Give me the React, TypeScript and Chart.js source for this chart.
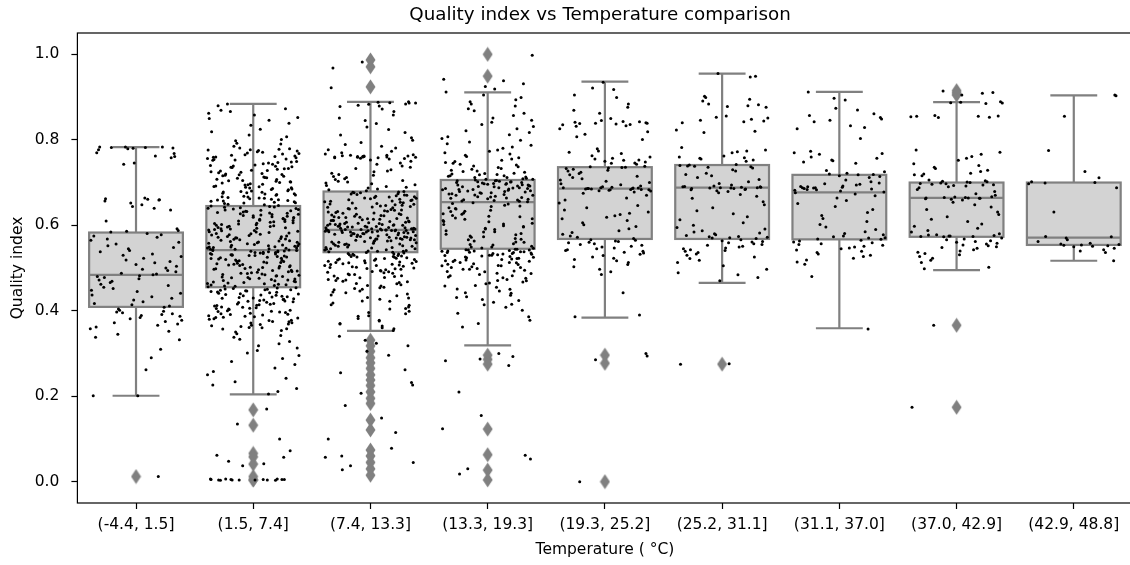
import React, { useEffect, useRef } from 'react';
import { Chart, registerables } from 'chart.js';

Chart.register(...registerables);

// ---------- data ----------
const categories = [
  '(-4.4, 1.5]', '(1.5, 7.4]', '(7.4, 13.3]', '(13.3, 19.3]', '(19.3, 25.2]',
  '(25.2, 31.1]', '(31.1, 37.0]', '(37.0, 42.9]', '(42.9, 48.8]',
];
const yTicks = [0.0, 0.2, 0.4, 0.6, 0.8, 1.0];

const whiskerLow = [0.201, 0.204, 0.353, 0.319, 0.384, 0.465, 0.359, 0.495, 0.517];
const q1 = [0.409, 0.455, 0.537, 0.545, 0.568, 0.568, 0.567, 0.573, 0.554];
const median = [0.484, 0.542, 0.589, 0.654, 0.686, 0.688, 0.677, 0.664, 0.571];
const q3 = [0.583, 0.645, 0.679, 0.706, 0.736, 0.741, 0.718, 0.700, 0.700];
const whiskerHigh = [0.783, 0.884, 0.889, 0.911, 0.936, 0.955, 0.912, 0.888, 0.904];

const outliers: number[][] = [
  [0.012],
  [0.168, 0.132, 0.066, 0.058, 0.041, 0.012, 0.004, 0.004],
  [0.987, 0.971, 0.924, 0.331, 0.318, 0.305, 0.290, 0.278, 0.265, 0.250, 0.238, 0.225, 0.210, 0.195, 0.183, 0.144, 0.121, 0.074, 0.060, 0.045, 0.030, 0.015],
  [1.0, 0.949, 0.296, 0.286, 0.275, 0.123, 0.063, 0.027, 0.004],
  [0.296, 0.277, 0.0],
  [0.275],
  [],
  [0.915, 0.910, 0.905, 0.366, 0.174],
  [],
];

// strip points (quality index, thousandths)
const stripG1 = [
  783, 783, 782, 781, 783, 780, 782, 779, 777, 770, 768, 762, 761, 758, 746, 743,
  664, 662, 661, 660, 659, 657, 652, 648, 644, 640, 636, 610,
  592, 588, 586, 584, 581, 578, 575, 572,
  568, 565, 560, 556, 552, 548, 545, 541, 538, 533, 530, 527, 523, 519, 515, 512, 508, 504, 500, 497, 494, 491,
  488, 486, 484, 482, 480, 478, 475, 472, 469, 466, 462, 459, 455, 452, 448, 445, 441, 437, 433, 429, 425, 421, 417, 414, 411, 408,
  404, 401, 399, 397, 395, 393, 391, 389, 387, 384, 381, 378, 375, 372, 369, 366, 362, 358, 352, 345, 338, 332, 310, 290, 262, 201, 201, 12,
];
const stripG2 = [
  884, 880, 873, 869, 866, 862, 858, 852, 850, 846, 839, 834, 825, 819, 811, 807, 801, 798, 792, 790, 785, 781,
  779, 778, 775, 774, 772, 769, 768, 767, 764, 762, 761, 759, 756, 755, 753, 752, 749, 747, 746, 744, 741, 740, 738, 736,
  735, 732, 731, 728, 727, 725, 723, 720, 719, 718, 715, 713, 711, 710, 708, 705, 704, 702, 700, 697, 696, 694, 692, 691,
  688, 686, 685, 683, 680, 679, 677, 675, 673, 672, 670, 667, 666, 664, 662, 661, 658, 657, 655, 653, 652, 649, 648, 646,
  645, 643, 642, 640, 639, 638, 636, 634, 633, 632, 630, 629, 627, 626, 624, 623, 621, 620, 619, 617, 615, 614, 613, 611,
  610, 608, 607, 605, 604, 602, 601, 600, 598, 596, 595, 594, 592, 591, 589, 588, 586, 585, 583, 582, 580, 579, 577, 576,
  575, 573, 571, 570, 569, 567, 566, 564, 563, 561, 560, 559, 557, 556, 554, 553, 551, 550, 548, 547, 546, 544, 543, 541,
  540, 538, 537, 536, 534, 533, 531, 530, 528, 527, 525, 524, 522, 521, 520, 518, 517, 515, 514, 512, 511, 510, 508, 507,
  505, 504, 502, 501, 499, 498, 497, 495, 494, 492, 491, 489, 488, 486, 485, 484, 482, 481, 479, 478, 476, 475, 473, 472,
  471, 469, 468, 466, 465, 463, 462, 460, 459, 458, 456,
  454, 452, 451, 449, 447, 446, 444, 442, 440, 439, 437, 435, 433, 432, 430, 428, 426, 424, 423, 421, 419, 417, 415, 413,
  411, 409, 407, 405, 403, 400, 398, 396, 393, 391, 388, 386, 383, 380, 377, 374, 371, 368, 365, 361, 358, 354, 350, 346,
  342, 338, 333, 328, 323, 318, 313, 307, 301, 295, 288, 281, 274, 266, 258, 250, 242, 234, 226, 218, 211, 205,
  5, 4, 6, 3, 5, 4, 5, 6, 4, 3, 5, 4, 6, 5, 4, 57, 42, 170, 135, 62, 37, 48, 72, 100,
  777, 771, 765, 760, 754, 748, 743, 737, 733, 729, 724, 721, 716, 712, 707, 703, 699, 695, 690, 687, 684, 681, 678, 674,
  671, 668, 665, 663, 660, 656, 654, 651, 776, 758, 739, 717, 701, 689, 676, 659,
  644, 641, 637, 635, 631, 628, 625, 622, 618, 616, 612, 609, 606, 603, 599, 597, 593, 590, 587, 584, 581, 578, 574, 572,
  568, 565, 562, 558, 555, 552, 549, 545, 542, 539, 535, 532, 529, 526, 523, 519, 516, 513, 509, 506, 503, 500, 496, 493,
  490, 487, 483, 480, 477, 474, 470, 467, 464, 461, 457, 541, 547, 538, 552, 534, 529, 544, 536, 549, 531, 540,
  453, 450, 448, 445, 441, 438, 434, 431, 427, 425, 420, 416, 412, 408, 404, 401, 397, 394, 390, 387, 384, 381, 378, 375,
  372, 369, 366, 363, 360, 357, 449, 443, 436, 429, 422, 414, 406, 399, 392, 385,
];
const stripG3 = [
  982, 968, 922, 889, 887, 886, 884, 883, 881, 879, 878,
  872, 866, 858, 851, 845, 838, 830, 824, 817, 811, 805, 799, 794, 789, 785, 781, 777, 773, 770,
  767, 765, 764, 763, 762, 761, 761, 760, 760, 759, 759, 758, 757, 756, 755, 753,
  750, 746, 743, 739, 736, 733, 730, 727, 725, 722, 719, 717, 714, 712, 709, 707, 705, 703, 701, 699, 697, 695, 693, 691,
  689, 687, 685, 683, 681,
  679, 678, 677, 676, 674, 673, 672, 670, 669, 668, 667, 665, 664, 663, 661, 660, 659, 657, 656, 655, 653, 652, 650, 649,
  648, 646, 645, 643, 642, 641, 639, 638, 636, 635, 634, 632, 631, 630, 628, 627, 626, 625, 623, 622, 621, 620, 619, 618,
  617, 616, 615, 614, 613, 612, 611, 610, 609, 608, 607, 606, 605, 604, 603, 602, 601, 600, 599, 598, 597, 596, 595, 594,
  593, 592, 591, 590, 590, 589, 589, 588, 588, 587, 586, 585, 584, 583, 582, 581, 580, 579, 578, 577, 576, 575, 574, 573,
  572, 571, 570, 569, 568, 567, 566, 565, 564, 563, 562, 561, 560, 558, 557, 556, 555, 553, 552, 551, 549, 548, 547, 545,
  544, 543, 541, 540, 539, 538,
  536, 535, 533, 532, 530, 529, 527, 526, 524, 523, 521, 520, 518, 517, 515, 514, 512, 511, 509, 508, 506, 504, 503, 501,
  500, 498, 496, 494, 492, 490, 488, 486, 484, 482, 480, 478, 476, 473, 471, 469, 466, 464, 461, 458, 455, 452, 449, 446,
  442, 439, 435, 431, 427, 423, 418, 414, 409, 404, 399, 393, 388, 382, 376, 370, 364, 358, 354,
  340, 331, 324, 305, 296, 262, 255, 232, 226, 207, 178, 149, 115, 100, 78, 60, 57, 45, 37, 28, 318,
  760, 762, 758, 764, 761, 886, 888,
  676, 671, 666, 662, 658, 654, 651, 647, 644, 640, 637, 633, 629, 624, 618, 614, 611, 607, 604, 602, 600, 598, 596, 594,
  592, 591, 590, 589, 588, 587, 586, 585, 584, 583, 582, 581, 580, 578, 576, 574, 572, 570, 568, 566, 564, 562, 559, 556,
  554, 551, 548, 545, 542, 539, 596, 603, 593, 587, 589, 591, 584, 600,
  537, 534, 531, 528, 525, 522, 519, 516, 513, 510, 507, 502, 497, 493, 489, 485, 481, 477, 472, 468, 463, 459, 454, 450,
  444, 437, 430, 422, 413, 405, 396, 387, 378, 369, 360, 533, 527, 521, 512, 506, 499, 491,
];
const stripG4 = [
  998, 942, 938, 931, 925, 919, 912, 905, 899, 894, 889, 884, 879, 873, 868, 862, 857, 851, 846, 841, 836, 831, 826, 821,
  817, 812, 807, 803, 799, 795, 791, 787, 783, 780, 776, 773, 770, 767, 764, 761, 758, 755, 752, 749,
  747, 745, 743, 741, 739, 737, 735, 733, 731, 729, 727, 726, 724, 722, 721, 719, 718, 716, 715, 713, 712, 710, 709, 708,
  706, 705, 704, 703, 702, 701, 700, 699, 698, 697, 696, 695, 694, 693, 692, 691, 690, 688, 687, 686, 685, 684, 683, 681,
  680, 679, 678, 676, 675, 674, 672, 671, 670, 668, 667, 665, 664, 662, 661, 659, 658, 656, 655,
  653, 650, 647, 644, 641, 638, 635, 632, 629, 626, 623, 620, 617, 614, 611, 608, 605, 602, 599, 596, 593, 590, 587, 584,
  581, 578, 575, 572, 569, 566, 563, 560, 557, 554, 551, 549, 547, 546,
  544, 543, 542, 541, 540, 539, 538, 537, 536, 535, 534, 533, 531, 530, 529, 527, 526, 524, 523, 521, 520, 518, 517, 515,
  513, 512, 510, 508, 506, 505, 503, 501, 499, 497, 495, 493, 491,
  488, 485, 482, 479, 476, 473, 470, 467, 463, 459, 455, 451, 446, 441, 436, 431, 426, 420, 414, 408, 401, 394, 386, 378,
  370, 362, 300, 293, 283, 272, 210, 124, 53, 30, 18, 62, 287, 155,
  720, 716, 712, 708, 704, 702, 700, 698, 696, 694, 692, 690, 688, 686, 684, 682, 679, 676, 673, 670, 666, 663, 660, 657,
  651, 645, 639, 633, 627, 621, 615, 609, 603, 597, 591, 585, 579, 573, 567, 561, 555, 549,
  544, 542, 540, 538, 536, 534, 532, 530, 528, 525, 522, 519, 516, 513, 509, 505, 501, 497, 492, 487, 482, 477, 471, 465,
  458, 450, 442, 433, 424, 415,
];
const stripG5 = [
  935, 921, 918, 905, 899, 884, 876, 869, 862, 850, 845, 843, 842, 841, 840, 839, 839, 838, 837, 836, 835, 833, 832, 826,
  819, 813, 807, 801,
  779, 774, 771, 768, 763, 760, 757, 755, 753, 752, 750, 748, 746, 745, 743,
  738, 737, 736, 735, 734, 733, 731, 729, 727, 724, 721, 718, 715, 712, 709, 706, 703, 700, 697, 695, 692, 690, 689, 688,
  688, 687, 687, 686, 686, 686, 685, 685, 684, 684, 683, 683, 682, 681, 680, 678,
  675, 670, 664, 659, 652, 646, 641, 636, 631, 628, 625, 622, 619, 615, 611, 606, 601, 597, 592, 587, 583, 579, 575, 572, 569,
  566, 565, 563, 562, 560, 559, 557, 555, 553, 551, 549, 547, 545, 543, 541, 539, 537, 535, 532, 529, 526, 523, 520, 517,
  513, 508, 503, 497, 491, 485, 442, 390, 386,
  300, 294, 285, 0,
];
const stripG6 = [
  955, 949, 947, 902, 899, 895, 891, 884, 882, 880, 878, 876, 856, 853, 851, 848, 846, 844, 842, 840, 823, 820, 817,
  782, 776, 774, 772, 770, 762, 760, 758, 757, 755, 753, 750,
  742, 741, 740, 739, 738, 737, 736, 734, 730, 727, 722, 719, 716, 712, 707, 702, 698, 694, 692, 691, 690, 690, 689, 689,
  688, 688, 687, 687, 686, 686, 685, 684, 683, 681, 679, 676, 672, 668, 663, 655, 648, 641, 634, 627, 620, 613, 606, 600,
  595, 591, 587, 584, 582, 580, 578, 576, 574, 573, 572, 571, 570, 569,
  566, 564, 562, 561, 559, 557, 555, 553, 551, 549, 547, 545, 543, 541, 539, 536, 533, 530, 526, 522, 518, 513, 505, 497,
  489, 484, 478, 470, 276, 275,
];
const stripG7 = [
  912, 897, 893, 874, 870, 861, 857, 852, 849, 846, 842, 833, 829, 826, 803, 773, 770, 768, 766, 760, 757, 753, 751, 748, 745,
  728, 725, 722, 720, 719, 718, 716, 714, 712, 706, 702, 699, 697, 696, 694, 692, 691, 690, 689, 688, 688, 687, 686, 685,
  684, 683, 682, 680, 678, 676, 673, 669, 664, 658, 651, 644, 637, 630, 623, 616, 609, 602, 596, 590, 585, 581, 578, 575,
  573, 571, 570, 568, 567,
  565, 563, 561, 559, 557, 555, 553, 551, 549, 547, 545, 542, 539, 536, 533, 530, 527, 523, 519, 514, 509, 480, 357,
];
const stripG8 = [
  914, 911, 909, 905, 889, 888, 887, 886, 885, 857, 856, 855, 855, 854, 853, 852, 776, 771, 766, 761, 757, 752, 744, 740,
  736, 733, 729, 726, 722, 720, 718, 716,
  706, 704, 703, 702, 701, 700, 699, 698, 697, 696, 695, 694, 693, 692, 690, 688, 684, 679, 674, 670, 667, 666, 665, 665,
  664, 664, 663, 663, 662, 661, 659, 654, 648, 643, 637, 631, 625, 620, 614, 609, 603, 598, 593, 588, 584, 580, 578, 577,
  576, 575, 575, 574, 574, 573,
  570, 568, 566, 564, 562, 560, 558, 556, 554, 552, 550, 548, 546, 543, 540, 537, 534, 531, 527, 523, 518, 513, 502, 498,
  366, 174,
];
const stripG9 = [
  905, 903, 855, 775, 726, 711, 702, 700, 699, 697, 688, 631, 574, 573, 570, 566, 562, 558, 556, 555, 554, 553, 552, 551,
  550, 546, 543, 540, 536, 517,
];
const stripGroups = [stripG1, stripG2, stripG3, stripG4, stripG5, stripG6, stripG7, stripG8, stripG9];

// fixed horizontal jitter table (fraction of a category band), 127 entries
const JITTER = [
  -0.31, 0.12, 0.37, -0.05, 0.24, -0.38, 0.03, 0.29, -0.17, 0.35, -0.26, 0.08, -0.12, 0.19, -0.34, 0.31,
  -0.02, -0.22, 0.27, 0.14, -0.36, 0.05, 0.33, -0.09, -0.28, 0.21, 0.39, -0.15, 0.01, -0.33, 0.16, -0.24,
  0.36, 0.10, -0.07, 0.26, -0.19, -0.39, 0.22, 0.06, -0.30, 0.34, -0.11, 0.18, -0.03, 0.30, -0.21, -0.36,
  0.13, 0.25, -0.14, 0.38, -0.27, 0.00, 0.32, -0.08, 0.20, -0.32, 0.09, -0.18, 0.28,
  0.045, -0.355, 0.275, -0.125, 0.385, -0.245, 0.155, -0.015, 0.315, -0.295,
  0.085, -0.185, 0.235, -0.375, 0.025, 0.345, -0.065, -0.215, 0.195, -0.335,
  0.115, 0.265, -0.155, 0.375, -0.035, -0.275, 0.175, 0.065, -0.385, 0.295,
  -0.105, 0.225, -0.235, 0.015, 0.355, -0.165, 0.135, -0.315, 0.255, -0.055,
  0.095, -0.265, 0.325, -0.135, 0.205, -0.345, 0.035, 0.285, -0.195, 0.145,
  -0.085, 0.365, -0.255, 0.075, -0.025, 0.245, -0.365, 0.185, -0.115, 0.305,
  -0.205, 0.055, -0.305, 0.215, -0.045, 0.165,
];

// ---------- styles ----------
const GRAY = '#808080';
const BOX_FILL = '#d3d3d3';
const FONT = '"DejaVu Sans", sans-serif';
const CANVAS_W = 1140;
const CANVAS_H = 565;

export default function App() {
  const ref = useRef<HTMLCanvasElement>(null);

  useEffect(() => {
    document.body.style.margin = '0';
    const canvas = ref.current;
    if (!canvas) return;

    const diamond = document.createElement('canvas');
    diamond.width = 11;
    diamond.height = 16;
    const dctx = diamond.getContext('2d')!;
    dctx.fillStyle = GRAY;
    dctx.beginPath();
    dctx.moveTo(5.5, 0.5);
    dctx.lineTo(10.5, 8);
    dctx.lineTo(5.5, 15.5);
    dctx.lineTo(0.5, 8);
    dctx.closePath();
    dctx.fill();

    const stripData: { x: number; y: number }[] = [];
    stripGroups.forEach((g, gi) => {
      g.forEach((v, j) => {
        stripData.push({ x: gi + JITTER[(j * 23 + gi * 17) % JITTER.length], y: v / 1000 });
      });
    });
    const outlierData = outliers.flatMap((arr, gi) => arr.map((v) => ({ x: gi, y: v })));

    const boxPlugin = {
      id: 'boxes',
      beforeDatasetsDraw(chart: any) {
        const { ctx } = chart;
        const xs = chart.scales.x;
        const ys = chart.scales.y;
        ctx.save();
        ctx.lineWidth = 2.2;
        ctx.strokeStyle = GRAY;
        for (let i = 0; i < categories.length; i++) {
          const cx = xs.getPixelForValue(i);
          const left = xs.getPixelForValue(i - 0.4);
          const right = xs.getPixelForValue(i + 0.4);
          const capL = xs.getPixelForValue(i - 0.2);
          const capR = xs.getPixelForValue(i + 0.2);
          const yQ1 = ys.getPixelForValue(q1[i]);
          const yQ3 = ys.getPixelForValue(q3[i]);
          const yMed = ys.getPixelForValue(median[i]);
          const yLo = ys.getPixelForValue(whiskerLow[i]);
          const yHi = ys.getPixelForValue(whiskerHigh[i]);
          ctx.beginPath();
          ctx.moveTo(cx, yQ3);
          ctx.lineTo(cx, yHi);
          ctx.moveTo(cx, yQ1);
          ctx.lineTo(cx, yLo);
          ctx.moveTo(capL, yHi);
          ctx.lineTo(capR, yHi);
          ctx.moveTo(capL, yLo);
          ctx.lineTo(capR, yLo);
          ctx.stroke();
          ctx.fillStyle = BOX_FILL;
          ctx.fillRect(left, yQ3, right - left, yQ1 - yQ3);
          ctx.strokeRect(left, yQ3, right - left, yQ1 - yQ3);
          ctx.beginPath();
          ctx.moveTo(left, yMed);
          ctx.lineTo(right, yMed);
          ctx.stroke();
        }
        ctx.restore();
      },
    };

    const framePlugin = {
      id: 'frame',
      afterDatasetsDraw(chart: any) {
        const { ctx, chartArea: a } = chart;
        ctx.save();
        ctx.strokeStyle = '#000';
        ctx.lineWidth = 1.2;
        ctx.strokeRect(a.left, a.top, a.right - a.left, a.bottom - a.top);
        ctx.restore();
      },
      afterDraw(chart: any) {
        const { ctx } = chart;
        ctx.save();
        ctx.fillStyle = '#000';
        ctx.font = `18.3px ${FONT}`;
        ctx.textAlign = 'center';
        ctx.textBaseline = 'alphabetic';
        ctx.fillText('Quality index vs Temperature comparison', 600, 19.5);
        ctx.restore();
      },
    };

    const chart = new Chart(canvas, {
      type: 'scatter',
      data: {
        datasets: [
          {
            label: 'strip',
            data: stripData,
            order: 0,
            pointRadius: 1.5,
            pointHoverRadius: 1.5,
            pointBackgroundColor: '#000',
            pointBorderWidth: 0,
            borderWidth: 0,
          },
          {
            label: 'outliers',
            data: outlierData,
            order: 1,
            pointStyle: diamond as any,
            pointRadius: 5,
            pointHoverRadius: 5,
          },
        ],
      },
      options: {
        responsive: false,
        animation: false,
        devicePixelRatio: 1,
        events: [],
        layout: { padding: { left: 0, top: 33, right: CANVAS_W - 1132.4, bottom: 0 } },
        plugins: {
          legend: { display: false },
          tooltip: { enabled: false },
          title: { display: false },
        },
        scales: {
          x: {
            type: 'linear',
            min: -0.5,
            max: 8.5,
            bounds: 'data',
            afterBuildTicks: (s: any) => {
              s.ticks = categories.map((_, i) => ({ value: i }));
            },
            afterFit: (s: any) => {
              s.height = CANVAS_H - 503;
            },
            ticks: {
              stepSize: 1,
              autoSkip: false,
              maxRotation: 0,
              minRotation: 0,
              padding: 7,
              color: '#000',
              font: { family: FONT, size: 15.5 },
              callback: (v: any) => categories[Math.round(Number(v))] ?? '',
            },
            grid: {
              display: true,
              drawOnChartArea: false,
              drawTicks: true,
              tickLength: 6,
              tickColor: '#000',
              tickWidth: 1.2,
            },
            border: { display: false },
            title: {
              display: true,
              text: 'Temperature ( °C)',
              color: '#000',
              font: { family: FONT, size: 15.5 },
              padding: { top: 0, bottom: 6 },
            },
          },
          y: {
            type: 'linear',
            min: -0.05,
            max: 1.05,
            bounds: 'data',
            afterBuildTicks: (s: any) => {
              s.ticks = yTicks.map((v) => ({ value: v }));
            },
            afterFit: (s: any) => {
              s.width = 77.4;
            },
            ticks: {
              padding: 12,
              color: '#000',
              font: { family: FONT, size: 15.5 },
              callback: (v: any) => Number(v).toFixed(1),
            },
            grid: {
              display: true,
              drawOnChartArea: false,
              drawTicks: true,
              tickLength: 6,
              tickColor: '#000',
              tickWidth: 1.2,
            },
            border: { display: false },
            title: {
              display: true,
              text: 'Quality index',
              color: '#000',
              font: { family: FONT, size: 15.5 },
              padding: { top: 9, bottom: 0 },
            },
          },
        },
      } as any,
      plugins: [boxPlugin, framePlugin],
    });

    return () => chart.destroy();
  }, []);

  return (
    <div style={{ width: 1130, height: 565, overflow: 'hidden', position: 'relative' }}>
      <canvas ref={ref} width={CANVAS_W} height={CANVAS_H} style={{ display: 'block' }} />
    </div>
  );
}
